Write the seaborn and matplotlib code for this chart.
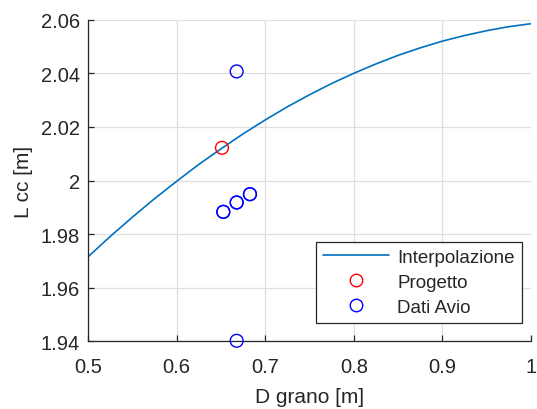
import numpy as np
import matplotlib
matplotlib.use("Agg")
import matplotlib.pyplot as plt
from matplotlib.lines import Line2D
from matplotlib.ticker import FuncFormatter
import seaborn as sns

# Interpolated curve L_cc(D_grano), sampled every 0.025 m
curve_d = [0.500, 0.525, 0.550, 0.575, 0.600, 0.625, 0.650, 0.675, 0.700, 0.725,
           0.750, 0.775, 0.800, 0.825, 0.850, 0.875, 0.900, 0.925, 0.950, 0.975, 1.000]
curve_l = [1.9715, 1.9791, 1.9863, 1.9932, 1.9997, 2.0060, 2.0118, 2.0174, 2.0226, 2.0275,
           2.0320, 2.0362, 2.0400, 2.0435, 2.0467, 2.0495, 2.0520, 2.0541, 2.0559, 2.0574, 2.0585]

# Design point
progetto_d = [0.6512]
progetto_l = [2.0122]

# Avio data (some entries repeated)
avio_d = [0.6678, 0.6527, 0.6527, 0.6678, 0.6678, 0.6828, 0.6828, 0.6678]
avio_l = [2.0407, 1.9883, 1.9883, 1.9918, 1.9918, 1.9949, 1.9949, 1.9402]

x_ticks = [0.5, 0.6, 0.7, 0.8, 0.9, 1.0]
y_ticks = [1.94, 1.96, 1.98, 2.00, 2.02, 2.04, 2.06]

sns.set_theme(style="whitegrid")
plt.rcParams["font.family"] = ["Liberation Sans", "DejaVu Sans"]

fig = plt.figure(figsize=(5.37, 4.10), dpi=100)
ax = fig.add_axes([0.1639, 0.1651, 0.8249, 0.7844])
ax.set_facecolor("white")

sns.lineplot(x=curve_d, y=curve_l, ax=ax, color="#0072BD", linewidth=1.2,
             sort=False, estimator=None)

sns.scatterplot(x=progetto_d, y=progetto_l, ax=ax, marker="o", s=85,
                facecolors="none", edgecolors="#FF0000", linewidth=1.0,
                clip_on=False, zorder=3)
sns.scatterplot(x=avio_d, y=avio_l, ax=ax, marker="o", s=85,
                facecolors="none", edgecolors="#0000FF", linewidth=1.0,
                clip_on=False, zorder=3)

ax.set_xlim(0.5, 1.0)
ax.set_ylim(1.94, 2.06)
ax.set_xticks(x_ticks)
ax.set_yticks(y_ticks)
fmt = FuncFormatter(lambda v, _: f"{v:g}")
ax.xaxis.set_major_formatter(fmt)
ax.yaxis.set_major_formatter(fmt)

ax.grid(True, color="#dfdfdf", linewidth=0.9)
for side in ["top", "right"]:
    ax.spines[side].set_visible(False)
for side in ["left", "bottom"]:
    ax.spines[side].set_color("#262626")
    ax.spines[side].set_linewidth(0.9)

ax.tick_params(axis="both", direction="in", length=4, width=0.9,
               color="#262626", labelcolor="#262626", labelsize=14.5,
               left=True, bottom=True)
ax.tick_params(axis="x", pad=11)
ax.tick_params(axis="y", pad=6)

ax.set_xlabel("D grano [m]", fontsize=15, color="#262626", labelpad=8)
ax.set_ylabel("L cc [m]", fontsize=15, color="#262626", labelpad=5)

handles = [
    Line2D([], [], color="#0072BD", linewidth=1.2),
    Line2D([], [], linestyle="none", marker="o", markersize=9,
           markerfacecolor="none", markeredgecolor="#FF0000", markeredgewidth=1.0),
    Line2D([], [], linestyle="none", marker="o", markersize=9,
           markerfacecolor="none", markeredgecolor="#0000FF", markeredgewidth=1.0),
]
leg = ax.legend(handles, ["Interpolazione", "Progetto", "Dati Avio"],
                loc="lower right", bbox_to_anchor=(0.979, 0.057),
                fontsize=13.5, frameon=True, fancybox=False, framealpha=1,
                edgecolor="#262626", handlelength=3.5, borderpad=0.38,
                labelspacing=0.42, handletextpad=0.45, borderaxespad=0)
leg.get_frame().set_linewidth(0.9)
for t in leg.get_texts():
    t.set_color("#262626")

fig.savefig("out.png", dpi=100, facecolor="white")
